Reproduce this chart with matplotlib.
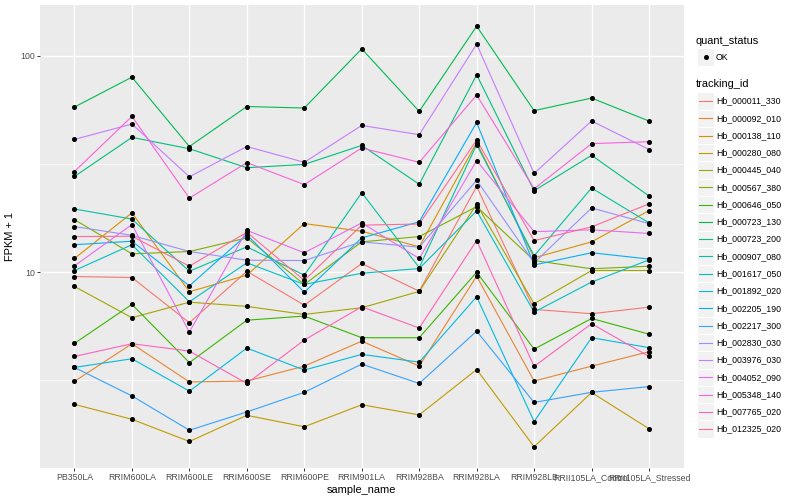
import numpy as np
import matplotlib.pyplot as plt
from matplotlib.patches import Rectangle
from matplotlib.lines import Line2D

plt.rcParams['font.family'] = ['Liberation Sans', 'DejaVu Sans']

samples = ['PB350LA', 'RRIM600LA', 'RRIM600LE', 'RRIM600SE', 'RRIM600PE', 'RRIM901LA',
           'RRIM928BA', 'RRIM928LA', 'RRIM928LB', 'RRII105LA_Control', 'RRII105LA_Stressed']

# FPKM + 1 per sample
hb_000011_330 = [9.55, 9.45, 5.84, 10.1, 7.04, 10.97, 8.17, 24.9, 6.73, 6.43, 6.89]
hb_000092_010 = [3.13, 4.67, 3.11, 3.14, 3.68, 4.80, 3.68, 9.58, 3.14, 3.68, 4.29]
hb_000138_110 = [11.57, 18.8, 8.12, 9.69, 16.78, 15.46, 13.1, 39.7, 11.66, 13.81, 19.27]
hb_000280_080 = [2.45, 2.09, 1.65, 2.18, 1.93, 2.44, 2.19, 3.55, 1.56, 2.78, 1.89]
hb_000445_040 = [8.59, 6.16, 7.27, 6.95, 6.38, 6.85, 8.15, 20.6, 7.15, 10.18, 10.18]
hb_000567_380 = [17.5, 12.16, 12.46, 14.41, 8.78, 13.81, 14.61, 20.1, 11.32, 10.37, 10.66]
hb_000646_050 = [4.69, 7.10, 3.82, 6.00, 6.27, 4.98, 4.98, 10.0, 4.41, 6.11, 5.17]
hb_000723_130 = [58.0, 79.7, 38.1, 58.3, 57.4, 107.7, 55.4, 137.1, 55.8, 63.8, 49.96]
hb_000723_200 = [27.7, 42.0, 37.2, 30.4, 31.5, 38.55, 25.5, 81.7, 23.8, 34.7, 22.5]
hb_000907_080 = [19.6, 17.6, 10.1, 13.1, 9.69, 23.3, 10.5, 38.9, 11.9, 24.5, 16.9]
hb_001617_050 = [10.18, 13.4, 7.30, 11.05, 8.78, 9.89, 10.4, 19.2, 6.54, 9.0, 11.4]
hb_001892_020 = [3.63, 3.98, 2.82, 4.46, 3.53, 4.17, 3.84, 7.70, 2.04, 4.98, 4.48]
hb_002205_190 = [13.4, 13.9, 8.65, 14.9, 8.08, 14.41, 17.1, 49.2, 10.8, 12.3, 11.5]
hb_002217_300 = [3.63, 2.68, 1.86, 2.26, 2.785, 3.76, 3.06, 5.34, 2.50, 2.785, 2.96]
hb_002830_030 = [16.25, 14.8, 12.46, 11.36, 11.32, 13.81, 13.05, 26.6, 11.05, 19.8, 16.78]
hb_003976_030 = [41.1, 48.4, 27.6, 38.1, 32.2, 47.7, 43.2, 113.2, 28.6, 50.0, 36.9]
hb_004052_090 = [10.7, 16.6, 5.29, 15.6, 12.3, 16.9, 11.57, 32.8, 15.4, 15.7, 15.1]
hb_005348_140 = [29.2, 52.5, 22.0, 32.1, 25.4, 37.5, 32.2, 65.9, 24.3, 39.3, 40.1]
hb_007765_020 = [4.08, 4.67, 4.32, 3.06, 4.86, 6.92, 5.52, 14.0, 3.67, 5.78, 4.08]
hb_012325_020 = [14.61, 14.66, 10.66, 15.3, 9.16, 16.5, 16.7, 40.8, 14.0, 16.2, 20.7]

tracking_ids = ['Hb_000011_330', 'Hb_000092_010', 'Hb_000138_110', 'Hb_000280_080',
                'Hb_000445_040', 'Hb_000567_380', 'Hb_000646_050', 'Hb_000723_130',
                'Hb_000723_200', 'Hb_000907_080', 'Hb_001617_050', 'Hb_001892_020',
                'Hb_002205_190', 'Hb_002217_300', 'Hb_002830_030', 'Hb_003976_030',
                'Hb_004052_090', 'Hb_005348_140', 'Hb_007765_020', 'Hb_012325_020']
series = [hb_000011_330, hb_000092_010, hb_000138_110, hb_000280_080, hb_000445_040,
          hb_000567_380, hb_000646_050, hb_000723_130, hb_000723_200, hb_000907_080,
          hb_001617_050, hb_001892_020, hb_002205_190, hb_002217_300, hb_002830_030,
          hb_003976_030, hb_004052_090, hb_005348_140, hb_007765_020, hb_012325_020]

# ggplot2 default hue palette, 20 levels
colors = ['#F8766D', '#EA8331', '#D89000', '#C09B00', '#A3A500', '#7CAE00', '#39B600',
          '#00BB4E', '#00BF7D', '#00C1A3', '#00BFC4', '#00BAE0', '#00B0F6', '#35A2FF',
          '#9590FF', '#C77CFF', '#E76BF3', '#FA62DB', '#FF62BC', '#FF6A98']

W, H = 800, 500
fig = plt.figure(figsize=(W / 100, H / 100), dpi=100)
ax = fig.add_axes([40 / W, 1 - 468 / H, (683.5 - 40) / W, (468 - 5) / H])
ax.set_facecolor('#EBEBEB')

x = np.arange(len(samples))
for vals, c in zip(series, colors):
    ax.plot(x, vals, color=c, lw=0.8, zorder=2)
for vals in series:
    ax.plot(x, vals, 'o', color='black', ms=2.6, zorder=3)

ax.set_yscale('log')
ax.set_ylim(10 ** 0.095, 10 ** 2.235)
ax.set_xlim(-0.6, len(samples) - 0.4)
ax.set_yticks([10, 100])
ax.set_yticklabels(['10', '100'])
ax.set_yticks([10 ** 0.5, 10 ** 1.5], minor=True)
ax.set_yticklabels([], minor=True)
ax.set_xticks(x)
ax.set_xticklabels(samples)

ax.grid(True, which='major', color='white', lw=1.0, zorder=0)
ax.grid(True, which='minor', axis='y', color='white', lw=0.5, zorder=0)
ax.set_axisbelow(True)
for s in ax.spines.values():
    s.set_visible(False)
ax.tick_params(which='major', length=2, width=0.7, color='#333333', labelcolor='#4D4D4D',
               labelsize=6.3, pad=1.5)
ax.tick_params(which='minor', length=0)

ax.set_xlabel('sample_name', fontsize=7.9, labelpad=2)
ax.set_ylabel('FPKM + 1', fontsize=7.9, labelpad=4)


def fx(px):
    return px / W


def fy(py):
    return 1 - py / H


# legend: quant_status
fig.text(fx(696), fy(40.5), 'quant_status', fontsize=7.9, va='center', ha='left')
fig.patches.append(Rectangle((fx(697), fy(65.5)), 17 / W, 17 / H, transform=fig.transFigure,
                             facecolor='#F2F2F2', edgecolor='white', lw=0.8))
fig.lines.append(Line2D([fx(705.5)], [fy(57)], marker='o', ms=2.6, color='black',
                        transform=fig.transFigure))
fig.text(fx(716), fy(57), 'OK', fontsize=6.3, va='center', ha='left')

# legend: tracking_id
fig.text(fx(696), fy(84), 'tracking_id', fontsize=7.9, va='center', ha='left')
step = 17.27
for i, (name, c) in enumerate(zip(tracking_ids, colors)):
    cy = 101 + i * step
    fig.patches.append(Rectangle((fx(697), fy(cy + step / 2)), 17 / W, step / H,
                                 transform=fig.transFigure, facecolor='#F2F2F2',
                                 edgecolor='white', lw=0.8))
    fig.lines.append(Line2D([fx(699), fx(712)], [fy(cy), fy(cy)], color=c, lw=0.8,
                            transform=fig.transFigure))
    fig.text(fx(716), fy(cy), name, fontsize=6.3, va='center', ha='left')

fig.savefig('out.png', dpi=100)
